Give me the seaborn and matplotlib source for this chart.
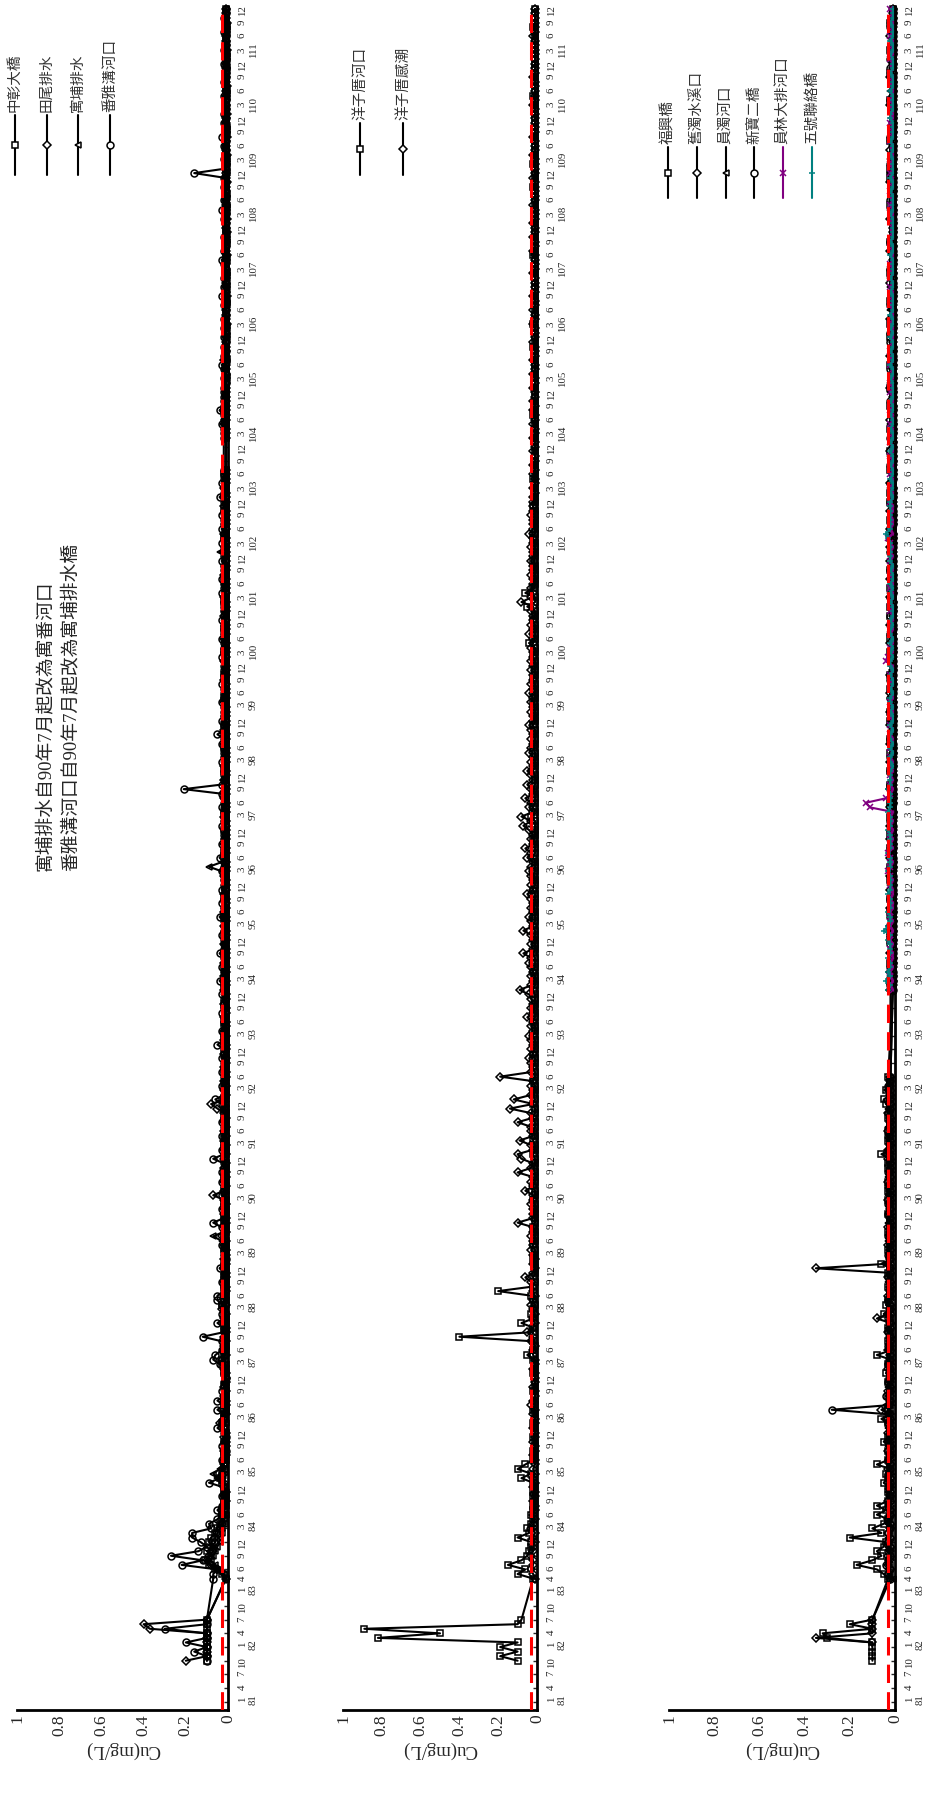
import numpy as np
import pandas as pd
import matplotlib
matplotlib.use("Agg")
import matplotlib.pyplot as plt
import seaborn as sns
from matplotlib.lines import Line2D
from matplotlib.ticker import FixedLocator, MultipleLocator

N = None

# --- TIME AXIS (ROC year, month) ---
EARLY = [(81, 10), (81, 11), (81, 12)] + [(82, m) for m in range(1, 8)]
MAIN = [(83, m) for m in range(4, 13)] + [(y, m) for y in range(84, 112) for m in range(1, 13)]
DATES = EARLY + MAIN
T = [y + (m - 1) / 12 for y, m in DATES]

TICK_MONTHS = {81: [1, 4, 7, 10], 82: [1, 4, 7, 10], 83: [1, 4, 6, 9, 12]}
LATER_MONTHS = [3, 6, 9, 12]
VALUE_TICKS = [0, 0.2, 0.4, 0.6, 0.8, 1]
VALUE_LABELS = ["0", "0.2", "0.4", "0.6", "0.8", "1"]
STANDARD = 0.03

# --- DATA: Cu in 0.01 mg/L; rows = 81/10-82/7, 83/4-12, then 84 ... 111 ---
ZHONGZHANG = [
    [10, 10, 10, 10, 10, 10, 10, 10, 10, 10],
    [1, 3, 6, 9, 11, 8, 10, 7, 9],
    [8, 6, 5, 4, 3, 2, 3, 2, 2, 1, 2, 2],
    [3, 4, 3, 2, 2, 1, 2, 2, 1, 2, 1, 1],
    [2, 3, 2, 2, 1, 2, 2, 1, 1, 2, 1, 1],
    [2, 1, 3, 3, 2, 2, 1, 2, 1, 1, 2, 1],
    [1, 2, 2, 3, 2, 1, 1, 2, 1, 2, 1, 1],
    [2, 1, 1, 2, 1, 1, 2, 1, 1, 2, 2, 1],
    [1, 2, 1, 1, 2, 1, 1, 2, 2, 1, 1, 2],
    [1, 1, 2, 1, 2, 1, 1, 1, 2, 1, 1, 2],
    [2, 1, 1, 2, 1, 1, 2, 1, 1, 1, 2, 1],
    [1, 1, 2, 1, 1, 2, 1, 1, 1, 2, 1, 1],
    [1, 2, 1, 1, 1, 2, 1, 1, 2, 1, 1, 1],
    [2, 1, 1, 1, 2, 1, 1, 1, 2, 1, 1, 1],
    [1, 1, 2, 1, 1, 1, 2, 1, 1, 1, 1, 2],
    [1, 1, 1, 2, 1, 1, 1, 2, 1, 1, 1, 1],
    [2, 1, 1, 1, 1, 2, 1, 1, 1, 1, 2, 1],
    [1, 1, 1, 1, 2, 1, 1, 1, 1, 2, 1, 1],
    [1, 1, 2, 1, 1, 1, 1, 2, 1, 1, 1, 1],
    [1, 2, 1, 1, 1, 1, 2, 1, 1, 1, 1, 1],
    [1, 1, 1, 2, 1, 1, 1, 1, 1, 2, 1, 1],
    [1, 1, 1, 1, 1, 2, 1, N, N, N, N, N],
    [N, 1, 1, 1, 1, 1, 1, 2, 1, 1, 1, 1],
    [1, 1, .5, 1, 1, 1, .5, 1, 1, 1, 1, .5],
    [1, .5, 1, 1, 1, 1, 1, .5, 1, 1, .5, 1],
    [.5, 1, 1, 1, .5, 1, 1, 1, 1, .5, 1, 1],
    [1, 1, 1, .5, 1, 1, .5, 1, 1, 1, 1, 1],
    [1, .5, 1, 1, 1, 1, 1, 1, .5, 1, 1, 1],
    [1, 1, 1, 1, .5, 1, 1, 1, 1, 1, .5, 1],
    [.5, 1, 1, 1, 1, 1, .5, 1, 1, 1, 1, 1],
]
TIANWEI = [
    [20, 10, 10, 10, 10, 10, 10, 37, 40, 10],
    [1, 2, 5, 8, 10, 9, 7, 8, 6],
    [6, 5, 4, 3, 2, 3, 2, 2, 1, 2, 1, 2],
    [2, 3, 2, 3, 2, 2, 1, 2, 1, 1, 2, 1],
    [2, 4, 2, 1, 2, 1, 1, 2, 1, 2, 1, 1],
    [1, 2, 2, 3, 1, 2, 2, 1, 2, 1, 1, 2],
    [2, 1, 3, 1, 2, 2, 1, 1, 2, 1, 1, 2],
    [1, 2, 1, 1, 2, 1, 3, 1, 2, 1, 1, 2],
    [2, 1, 2, 7, 2, 1, 2, 1, 1, 2, 1, 2],
    [1, 2, 1, 2, 1, 2, 1, 2, 1, 2, 5, 8],
    [2, 1, 2, 1, 2, 1, 1, 2, 1, 1, 2, 1],
    [1, 2, 1, 2, 1, 1, 2, 1, 1, 2, 1, 1],
    [2, 1, 1, 2, 1, 1, 2, 1, 1, 1, 2, 1],
    [1, 1, 2, 1, 1, 2, 1, 1, 1, 2, 1, 1],
    [1, 2, 1, 1, 1, 2, 1, 1, 2, 1, 1, 1],
    [1, 1, 2, 1, 1, 1, 2, 1, 1, 1, 2, 1],
    [1, 2, 1, 1, 1, 1, 2, 1, 1, 2, 1, 1],
    [1, 1, 1, 2, 1, 1, 1, 1, 2, 1, 1, 1],
    [2, 1, 1, 1, 1, 2, 1, 1, 1, 1, 2, 1],
    [1, 1, 2, 1, 1, 1, 1, 2, 1, 1, 1, 1],
    [1, 1, 1, 1, 2, 1, 1, 1, 1, 1, 2, 1],
    [1, 1, 2, 1, 1, 1, 1, N, N, N, N, N],
    [N, 1, 1, 1, 2, 1, 1, 1, 1, 1, 1, 1],
    [1, 1, 1, 1, 1, 1, 2, 1, 1, 1, 1, 1],
    [1, 1, .5, 1, 1, 1, 1, 1, .5, 1, 1, 1],
    [1, 1, 1, 1, 1, .5, 1, 1, 1, 1, .5, 1],
    [1, .5, 1, 1, 1, 1, 1, 1, 1, .5, 1, 1],
    [1, 1, 1, .5, 1, 1, 1, .5, 1, 1, 1, 1],
    [.5, 1, 1, 1, 1, 1, .5, 1, 1, 1, 1, 1],
    [1, 1, .5, 1, 1, 1, 1, 1, .5, 1, 1, 1],
]
YUPU = [
    [N] * 10,
    [1, 2, 4, 6, 8, 7, 6, 5, 4],
    [4, 3, 3, 2, 2, 1, 2, 1, 2, 1, 1, 2],
    [3, 5, 7, 4, 2, 2, 1, 2, 1, 2, 1, 1],
    [2, 1, 2, 2, 1, 1, 2, 1, 1, 1, 2, 1],
    [1, 2, 1, 2, 2, 1, 1, 2, 1, 2, 1, 1],
    [1, 1, 2, 1, 1, 2, 1, 2, 1, 1, 2, 1],
    [2, 1, 2, 1, 1, 3, 7, 2, 1, 2, 1, 1],
    [1, 2, 1, 2, 1, 1, 2, 1, 2, 1, 1, 2],
    [2, 1, 1, 2, 1, 2, 1, 1, 2, 1, 2, 1],
    [1, 2, 1, 1, 2, 1, 2, 1, 1, 2, 1, 1],
    [2, 1, 2, 1, 1, 2, 1, 1, 2, 1, 1, 2],
    [1, 1, 2, 1, 2, 1, 1, 2, 1, 1, 2, 1],
    [1, 2, 1, 1, 2, 1, 2, 1, 1, 2, 1, 1],
    [2, 1, 3, 9, 3, 1, 2, 1, 1, 2, 1, 1],
    [1, 2, 1, 1, 2, 1, 1, 2, 1, 1, 2, 1],
    [1, 1, 2, 1, 1, 2, 1, 1, 1, 2, 1, 1],
    [2, 1, 1, 1, 2, 1, 1, 1, 2, 1, 1, 1],
    [1, 1, 2, 1, 1, 1, 2, 1, 1, 1, 1, 2],
    [1, 2, 1, 1, 1, 2, 1, 1, 1, 2, 1, 1],
    [4, 2, 1, 1, 1, 1, 2, 1, 1, 1, 1, 1],
    [1, 1, 1, 2, 1, 1, 1, N, N, N, N, N],
    [N, 1, 1, 1, 1, 2, 1, 1, 1, 1, 1, 1],
    [1, 1, 1, 1, 2, 1, 1, 1, 1, 1, 1, 1],
    [1, 1, 1, 1, 1, 1, .5, 1, 1, 1, 1, 1],
    [1, .5, 1, 1, 1, 1, 1, 1, .5, 1, 1, 1],
    [1, 1, 1, 1, .5, 1, 1, 1, 1, 1, 1, .5],
    [1, 1, .5, 1, 1, 1, 1, 1, 1, .5, 1, 1],
    [1, 1, 1, 1, 1, .5, 1, 1, 1, 1, 1, 1],
    [1, .5, 1, 1, 1, 1, 1, .5, 1, 1, 1, 1],
]
FANYA = [
    [10, 10, 16, 10, 20, 10, 10, 30, 10, 10],
    [7, 7, 5, 22, 12, 27, 14, 10, 13],
    [17, 17, 8, 9, 5, 3, 5, 3, 2, 3, 2, 2],
    [9, 4, 3, 2, 2, 3, 2, 1, 3, 2, 1, 2],
    [5, 3, 2, 2, 5, 2, 5, 2, 3, 2, 2, 1],
    [2, 2, 4, 7, 6, 3, 2, 3, 12, 2, 2, 5],
    [2, 3, 2, 3, 5, 5, 2, 2, 3, 2, 2, 4],
    [2, 1, 2, 2, 3, 2, 2, 2, 3, 7, 2, 2],
    [3, 2, 2, 3, 2, 2, 3, 2, 3, 2, 2, 7],
    [2, 3, 2, 2, 3, 2, 2, 3, 2, 2, 2, 3],
    [6, 2, 2, 3, 2, 2, 3, 2, 2, 3, 2, 2],
    [5, 2, 2, 3, 2, 2, 2, 3, 2, 2, 2, 3],
    [2, 2, 4, 2, 2, 3, 2, 2, 4, 2, 2, 2],
    [3, 2, 2, 2, 4, 2, 2, 3, 2, 2, 3, 2],
    [2, 2, 3, 2, 2, 4, 2, 2, 3, 2, 2, 2],
    [3, 2, 2, 2, 3, 2, 2, 3, 21, 3, 2, 2],
    [2, 2, 3, 2, 2, 2, 3, 2, 5, 2, 2, 3],
    [2, 2, 2, 3, 2, 2, 2, 3, 2, 2, 2, 2],
    [2, 3, 2, 2, 2, 3, 2, 2, 2, 3, 2, 2],
    [2, 2, 2, 3, 2, 2, 3, 2, 2, 2, 3, 2],
    [2, 2, 3, 2, 2, 3, 2, 2, 3, 2, 2, 2],
    [4, 2, 2, 3, 2, 2, 2, N, N, N, N, N],
    [N, 2, 2, 2, 3, 2, 2, 4, 2, 2, 2, 2],
    [2, 1, 2, 1, 2, 3, 1, 2, 1, 2, 1, 2],
    [1, 2, 1, 2, 1, 1, 2, 1, 3, 1, 2, 1],
    [2, 1, 1, 2, 3, 1, 2, 1, 1, 2, 1, 1],
    [1, 2, 1, 3, 1, 2, 1, 1, 2, 1, 2, 16],
    [1, 1, 2, 1, 1, 2, 1, 3, 1, 1, 2, 1],
    [2, 1, 1, 1, 2, 1, 1, 2, 1, 1, 1, 2],
    [1, 1, 2, 1, 1, 1, 2, 1, 1, 2, 1, 1],
]
YZC_RIVER = [
    [10, 19, 10, 19, 10, 82, 50, 89, 10, 8],
    [2, 10, 6, 15, 8, 5, 4, 3, 3],
    [10, 4, 5, 3, 2, 3, 2, 2, 1, 2, 2, 1],
    [2, 8, 3, 10, 6, 2, 1, 2, 1, 1, 2, 1],
    [1, 2, 1, 1, 2, 1, 1, 1, 2, 1, 1, 1],
    [2, 1, 1, 2, 5, 2, 1, 2, 40, 2, 2, 8],
    [2, 3, 2, 1, 2, 3, 20, 2, 1, 2, 1, 1],
    [1, 2, 1, 1, 2, 1, 1, 1, 2, 1, 1, 1],
    [1, 1, 2, 1, 1, 2, 1, 1, 1, 2, 1, 1],
    [2, 1, 1, 2, 1, 2, 1, 1, 2, 1, 1, 2],
    [1, 2, 1, 1, 2, 1, 1, 2, 1, 1, 2, 1],
    [1, 1, 2, 1, 1, 2, 1, 1, 2, 1, 1, 1],
    [2, 1, 1, 1, 2, 1, 1, 1, 2, 1, 1, 1],
    [1, 1, 2, 1, 1, 1, 2, 1, 1, 1, 2, 1],
    [1, 2, 1, 1, 1, 2, 1, 1, 1, 2, 1, 1],
    [1, 1, 3, 1, 2, 1, 1, 1, 2, 1, 1, 1],
    [2, 1, 1, 1, 1, 2, 1, 1, 1, 1, 2, 1],
    [1, 1, 1, 2, 1, 1, 1, 1, 2, 1, 1, 1],
    [1, 2, 1, 1, 4, 1, 1, 1, 1, 2, 1, 1],
    [5, 1, 1, 6, 2, 1, 1, 1, 1, 1, 2, 1],
    [1, 1, 1, 2, 1, 1, 1, 1, 1, 1, 2, 1],
    [1, 1, 1, 1, 2, 1, 1, 1, 1, 1, 1, 1],
    [1, 1, 1, 1, 1, 1, 2, 1, 1, 1, 1, 1],
    [1, 1, 1, 1, 1, 1, 1, 1, 1, 2, 1, 1],
    [1, 1, 2, 1, 1, 1, 1, 1, 1, 1, 1, 1],
    [1, 1, 1, 1, 1, 2, 1, 1, 1, 1, 1, 1],
    [1, 1, 1, 1, 1, 1, 1, 1, 2, 1, 1, 1],
    [1, 2, 1, 1, 1, 1, 1, 1, 1, 1, 1, 1],
    [1, 1, 1, 1, 2, 1, 1, 1, 1, 1, 1, 1],
    [1, 1, 1, 1, 1, 1, 1, 2, 1, 1, 1, 1],
]
YZC_TIDAL = [
    [N] * 10,
    [1, 2, 3, 2, 2, 3, 2, 2, 1],
    [2, 1, 2, 2, 1, 2, 1, 1, 2, 1, 1, 2],
    [1, 2, 1, 2, 1, 1, 2, 1, 1, 2, 1, 1],
    [2, 1, 1, 2, 1, 3, 2, 1, 1, 2, 1, 1],
    [1, 2, 1, 1, 2, 2, 1, 3, 2, 5, 2, 1],
    [2, 1, 2, 3, 2, 1, 2, 2, 3, 6, 2, 1],
    [2, 1, 2, 3, 2, 2, 3, 2, 2, 10, 2, 2],
    [2, 3, 2, 2, 6, 2, 3, 2, 10, 3, 2, 8],
    [10, 2, 3, 9, 2, 3, 3, 10, 2, 3, 14, 2],
    [12, 3, 2, 3, 2, 19, 3, 2, 3, 4, 2, 3],
    [2, 3, 4, 2, 3, 2, 5, 2, 3, 2, 3, 4],
    [9, 3, 2, 3, 2, 3, 4, 3, 7, 2, 3, 2],
    [3, 7, 2, 3, 4, 2, 3, 2, 3, 5, 2, 3],
    [2, 3, 4, 3, 2, 5, 3, 6, 2, 3, 2, 4],
    [7, 3, 8, 2, 4, 3, 6, 2, 3, 5, 2, 3],
    [5, 2, 3, 2, 4, 3, 2, 3, 2, 3, 4, 2],
    [2, 3, 2, 3, 2, 4, 2, 3, 2, 2, 3, 2],
    [3, 2, 2, 3, 2, 2, 4, 2, 3, 2, 2, 3],
    [2, 8, 3, 2, 3, 2, 2, 3, 2, 2, 3, 2],
    [2, 3, 2, 2, 4, 2, 2, 2, 3, 2, 2, 2],
    [2, 1, 2, 1, 1, 2, 1, 2, 1, 1, 2, 1],
    [1, 2, 1, 1, 2, 1, 1, 2, 1, 2, 1, 1],
    [2, 1, 1, 2, 1, 1, 2, 1, 1, 1, 2, 1],
    [1, 1, 2, 1, 1, 2, 1, 1, 2, 1, 1, 1],
    [1, 2, 1, 1, 1, 1, 2, 1, 1, 2, 1, 1],
    [2, 1, 1, 1, 2, 1, 1, 1, 1, 1, 2, 1],
    [1, 1, 1, 2, 1, 1, 1, 2, 1, 1, 1, 1],
    [1, 1, 2, 1, 1, 1, 1, 1, 2, 1, 1, 1],
    [1, 1, 1, 1, 1, 2, 1, 1, 1, 1, 1, 1],
]
FUXING = [
    [10, 10, 10, 10, 10, 30, 32, 10, 20, 10],
    [3, 5, 8, 17, 10, 6, 8, 5, 4],
    [20, 6, 10, 5, 3, 8, 4, 8, 3, 2, 3, 2],
    [5, 3, 4, 2, 8, 3, 2, 3, 2, 5, 3, 2],
    [2, 3, 6, 2, 3, 2, 2, 3, 2, 2, 3, 2],
    [4, 2, 3, 2, 8, 2, 2, 3, 2, 2, 3, 2],
    [2, 5, 2, 4, 3, 2, 2, 3, 2, 2, 3, 2],
    [6, 2, 2, 3, 2, 2, 2, 3, 2, 2, 2, 3],
    [2, 2, 3, 2, 3, 2, 3, 2, 2, 3, 3, 2],
    [6, 2, 2, 3, 2, 3, 2, 2, 3, 2, 2, 4],
    [5, 2, 4, 2, 2, 3, N, N, N, N, N, N],
    [N] * 12,
    [1, 1, 2, 1, 1, 1, 2, 1, 1, 1, 1, 2],
    [1, 2, 1, 1, 1, 2, 1, 1, 2, 1, 1, 1],
    [2, 1, 1, 2, 1, 1, 1, 2, 1, 1, 2, 1],
    [1, 1, 2, 1, 1, 2, 1, 1, 1, 2, 1, 1],
    [2, 1, 1, 1, 2, 1, 1, 2, 1, 1, 1, 2],
    [1, 2, 1, 1, 1, 1, 2, 1, 1, 2, 1, 1],
    [1, 1, 2, 1, 1, 2, 1, 1, 1, 1, 2, 1],
    [2, 1, 1, 1, 2, 1, 1, 1, 2, 1, 1, 1],
    [1, 1, 1, 2, 1, 1, 1, 2, 1, 1, 1, 2],
    [1, 2, 1, 1, 1, 1, 2, 1, 1, 1, 2, 1],
    [1, 1, 1, 2, 1, 1, 1, 1, 2, 1, 1, 1],
    [2, 1, 1, 1, 1, 2, 1, 1, 1, 1, 1, 2],
    [1, 1, 2, 1, 1, 1, 1, 2, 1, 1, 1, 1],
    [1, 2, 1, 1, 1, 1, 1, 1, 2, 1, 1, 1],
    [1, 1, 1, 1, 2, 1, 1, 1, 1, 1, 2, 1],
    [2, 1, 1, 1, 1, 1, 2, 1, 1, 1, 1, 1],
    [1, 1, 1, 2, 1, 1, 1, 1, 1, 2, 1, 1],
    [1, 1, 2, 1, 1, 1, 1, 1, 2, 1, 1, 1],
]
JIUZHUO = [
    [N, N, N, N, 10, 35, 10, 10, 10, 10],
    [2, 3, 2, 3, 2, 3, 2, 2, 3],
    [2, 3, 2, 2, 3, 2, 2, 2, 3, 2, 2, 2],
    [3, 2, 2, 3, 2, 2, 2, 3, 2, 2, 2, 3],
    [2, 2, 3, 2, 6, 2, 2, 2, 3, 2, 2, 2],
    [2, 3, 2, 2, 2, 3, 2, 2, 2, 3, 2, 2],
    [8, 3, 2, 2, 2, 3, 2, 2, 2, 3, 2, 35],
    [3, 2, 2, 2, 3, 2, 2, 2, 3, 2, 2, 2],
    [2, 2, 3, 2, 2, 2, 3, 2, 2, 2, 2, 3],
    [2, 3, 2, 2, 2, 3, 2, 2, 2, 3, 2, 2],
    [2, 2, 3, 2, 2, 2, N, N, N, N, N, N],
    [N] * 12,
    [2, 1, 1, 1, 2, 1, 1, 1, 2, 1, 1, 1],
    [1, 1, 2, 1, 1, 1, 2, 1, 1, 1, 2, 1],
    [1, 2, 1, 1, 1, 2, 1, 1, 1, 2, 1, 1],
    [2, 1, 1, 1, 2, 1, 1, 1, 2, 1, 1, 1],
    [1, 1, 2, 1, 1, 1, 2, 1, 1, 1, 2, 1],
    [1, 2, 1, 1, 1, 2, 1, 1, 1, 2, 1, 1],
    [2, 1, 1, 1, 2, 1, 1, 1, 2, 1, 1, 1],
    [1, 1, 2, 1, 1, 1, 2, 1, 1, 1, 2, 1],
    [1, 2, 1, 1, 1, 2, 1, 1, 1, 2, 1, 1],
    [1, 1, 1, 2, 1, 1, 1, 1, 1, 1, 2, 1],
    [1, 1, 1, 1, 1, 2, 1, 1, 1, 1, 1, 1],
    [2, 1, 1, 1, 1, 1, 1, 2, 1, 1, 1, 1],
    [1, 1, 1, 2, 1, 1, 1, 1, 1, 1, 1, 2],
    [1, 1, 1, 1, 1, 1, 2, 1, 1, 1, 1, 1],
    [1, 2, 1, 1, 1, 1, 1, 1, 1, 2, 1, 1],
    [1, 1, 1, 1, 2, 1, 1, 1, 1, 1, 1, 1],
    [1, 1, 2, 1, 1, 1, 1, 1, 2, 1, 1, 1],
    [1, 1, 1, 1, 1, 2, 1, 1, 1, 1, 1, 1],
]
YUANZHUO = [
    [N] * 10,
    [1, 2, 3, 2, 3, 2, 2, 3, 2],
    [3, 2, 2, 3, 2, 2, 2, 3, 2, 2, 3, 2],
    [2, 3, 2, 2, 2, 3, 2, 2, 3, 2, 2, 2],
    [3, 2, 2, 3, 2, 4, 2, 2, 2, 3, 2, 2],
    [2, 2, 3, 2, 2, 3, 2, 2, 2, 2, 3, 2],
    [2, 3, 2, 2, 3, 2, 2, 2, 3, 2, 2, 2],
    [3, 2, 2, 2, 2, 3, 2, 2, 2, 3, 2, 2],
    [2, 2, 2, 3, 2, 2, 2, 3, 2, 2, 2, 2],
    [2, 3, 2, 2, 2, 2, 3, 2, 2, 2, 3, 2],
    [2, 2, 3, 2, 2, 2, N, N, N, N, N, N],
    [N] * 12,
    [1, 1, 1, 2, 1, 1, 1, 1, 2, 1, 1, 1],
    [1, 2, 1, 1, 1, 1, 2, 1, 1, 1, 1, 2],
    [1, 1, 1, 2, 1, 1, 1, 2, 1, 1, 1, 1],
    [2, 1, 1, 1, 1, 2, 1, 1, 1, 2, 1, 1],
    [1, 1, 2, 1, 1, 1, 1, 2, 1, 1, 1, 2],
    [1, 1, 1, 1, 2, 1, 1, 1, 1, 2, 1, 1],
    [1, 2, 1, 1, 1, 1, 2, 1, 1, 1, 1, 1],
    [1, 1, 1, 2, 1, 1, 1, 1, 2, 1, 1, 1],
    [2, 1, 1, 1, 1, 1, 2, 1, 1, 1, 2, 1],
    [1, 1, 2, 1, 1, 1, 1, 1, 1, 2, 1, 1],
    [1, 1, 1, 1, 2, 1, 1, 1, 1, 1, 1, 2],
    [1, 2, 1, 1, 1, 1, 1, 2, 1, 1, 1, 1],
    [1, 1, 1, 1, 1, 2, 1, 1, 1, 1, 2, 1],
    [2, 1, 1, 1, 1, 1, 1, 1, 2, 1, 1, 1],
    [1, 1, 1, 2, 1, 1, 1, 1, 1, 1, 1, 2],
    [1, 1, 2, 1, 1, 1, 2, 1, 1, 1, 1, 1],
    [1, 1, 1, 1, 1, 2, 1, 1, 1, 2, 1, 1],
    [1, 2, 1, 1, 1, 1, 1, 1, 2, 1, 1, 1],
]
XINBAO = [
    [N] * 10,
    [2, 3, 2, 4, 3, 2, 3, 2, 3],
    [2, 3, 2, 2, 3, 2, 2, 3, 2, 2, 2, 3],
    [2, 2, 3, 2, 2, 3, 2, 2, 2, 3, 2, 2],
    [2, 3, 2, 3, 28, 3, 2, 4, 2, 2, 3, 2],
    [2, 2, 3, 2, 2, 2, 3, 2, 2, 3, 2, 2],
    [3, 2, 2, 2, 3, 2, 2, 2, 2, 3, 2, 2],
    [2, 2, 3, 2, 2, 2, 3, 2, 2, 2, 2, 3],
    [2, 3, 2, 2, 2, 3, 2, 2, 3, 2, 2, 2],
    [3, 2, 2, 2, 3, 2, 2, 2, 2, 3, 2, 2],
    [2, 2, 2, 3, 2, 2, N, N, N, N, N, N],
    [N] * 12,
    [1, 2, 1, 1, 1, 2, 1, 1, 1, 1, 2, 1],
    [2, 1, 1, 1, 2, 1, 1, 1, 2, 1, 1, 1],
    [1, 1, 2, 1, 1, 1, 2, 1, 1, 1, 1, 2],
    [1, 2, 1, 1, 2, 1, 1, 1, 1, 2, 1, 1],
    [2, 1, 1, 2, 1, 1, 1, 2, 1, 1, 1, 1],
    [1, 1, 1, 1, 2, 1, 1, 1, 2, 1, 1, 1],
    [1, 2, 1, 1, 1, 1, 2, 1, 1, 1, 2, 1],
    [1, 1, 2, 1, 1, 1, 1, 1, 2, 1, 1, 1],
    [2, 1, 1, 1, 1, 2, 1, 1, 1, 1, 1, 2],
    [1, 1, 1, 2, 1, 1, 1, 2, 1, 1, 1, 1],
    [1, 2, 1, 1, 1, 1, 1, 1, 1, 2, 1, 1],
    [1, 1, 1, 1, 2, 1, 1, 1, 1, 1, 2, 1],
    [2, 1, 1, 1, 1, 1, 2, 1, 1, 1, 1, 1],
    [1, 1, 2, 1, 1, 1, 1, 1, 2, 1, 1, 1],
    [1, 1, 1, 1, 1, 2, 1, 1, 1, 1, 1, 2],
    [1, 2, 1, 1, 1, 1, 1, 2, 1, 1, 1, 1],
    [1, 1, 1, 2, 1, 1, 1, 1, 1, 1, 2, 1],
    [2, 1, 1, 1, 1, 1, 1, 2, 1, 1, 1, 1],
]
YUANLIN = [
    [N] * 10,
    [N] * 9,
] + [[N] * 12] * 10 + [
    [1, 2, 1, 2, 2, 1, 2, 1, 1, 2, 1, 2],
    [2, 1, 2, 1, 2, 2, 1, 1, 2, 1, 1, 2],
    [1, 2, 3, 2, 1, 2, 3, 1, 2, 1, 2, 1],
    [2, 1, 2, 1, 11, 13, 4, 2, 1, 2, 1, 2],
    [1, 2, 1, 2, 1, 2, 1, 1, 2, 1, 2, 1],
    [2, 1, 1, 2, 1, 1, 2, 1, 1, 2, 1, 1],
    [4, 3, 1, 2, 1, 1, 2, 1, 2, 1, 1, 2],
    [1, 2, 1, 1, 2, 1, 1, 2, 1, 1, 2, 1],
    [2, 1, 2, 3, 1, 2, 1, 1, 2, 1, 1, 2],
    [1, 1, 2, 1, 1, 2, 1, 1, 1, 2, 1, 1],
    [2, 1, 1, 1, 2, 1, 1, 2, 1, 1, 1, 2],
    [1, 2, 1, 1, 1, 2, 1, 1, 2, 1, 1, 1],
    [1, 1, 2, 1, 1, 1, 2, 1, 1, 1, 2, 1],
    [2, 1, 1, 2, 1, 1, 1, 1, 2, 1, 1, 1],
    [1, 1, 1, 1, 2, 1, 1, 2, 1, 1, 1, 2],
    [1, 2, 1, 1, 1, 1, 2, 1, 1, 1, 2, 1],
    [1, 1, 1, 2, 1, 1, 1, 1, 1, 2, 1, 1],
    [2, 1, 1, 1, 1, 2, 1, 1, 1, 1, 1, 2],
]
WUHAO = [
    [N] * 10,
    [N] * 9,
] + [[N] * 12] * 10 + [
    [3, 2, 4, 2, 3, 2, 2, 3, 2, 2, 2, 3],
    [2, 5, 3, 2, 2, 3, 2, 2, 2, 3, 2, 2],
    [2, 2, 3, 2, 2, 2, 3, 2, 2, 2, 2, 3],
    [2, 2, 2, 3, 2, 2, 2, 2, 3, 2, 2, 2],
    [2, 1, 2, 2, 1, 2, 1, 2, 2, 1, 2, 1],
    [1, 2, 1, 2, 2, 1, 2, 1, 1, 2, 1, 2],
    [2, 1, 2, 1, 2, 1, 2, 2, 1, 2, 1, 1],
    [1, 2, 1, 2, 1, 2, 1, 1, 2, 1, 2, 2],
    [2, 2, 2, 3, 4, 2, 2, 2, 2, 2, 2, 2],
    [1, 2, 1, 1, 2, 1, 1, 2, 1, 1, 2, 1],
    [2, 1, 1, 2, 1, 1, 2, 1, 1, 2, 1, 1],
    [1, 1, 2, 1, 1, 2, 1, 1, 2, 1, 1, 2],
    [1, 2, 1, 1, 2, 1, 1, 1, 1, 2, 1, 1],
    [2, 1, 1, 1, 1, 2, 1, 1, 2, 1, 1, 1],
    [1, 1, 2, 1, 1, 1, 1, 2, 1, 1, 2, 1],
    [1, 1, 1, 2, 1, 1, 2, 1, 1, 1, 1, 2],
    [2, 1, 1, 1, 1, 2, 1, 1, 1, 2, 1, 1],
    [1, 2, 1, 1, 2, 1, 1, 1, 2, 1, 1, 1],
]

# panels: (station, values, color, marker)
PANEL1 = [("中彰大橋", ZHONGZHANG, "black", "s"), ("田尾排水", TIANWEI, "black", "D"),
          ("寓埔排水", YUPU, "black", "<"), ("番雅溝河口", FANYA, "black", "o")]
PANEL2 = [("洋子厝河口", YZC_RIVER, "black", "s"), ("洋子厝感潮", YZC_TIDAL, "black", "D")]
PANEL3 = [("福興橋", FUXING, "black", "s"), ("舊濁水溪口", JIUZHUO, "black", "D"),
          ("員濁河口", YUANZHUO, "black", "<"), ("新寶二橋", XINBAO, "black", "o"),
          ("員林大排河口", YUANLIN, "#800080", "x"), ("五號聯絡橋", WUHAO, "#008080", "+")]

NOTE_1 = "寓埔排水自90年7月起改為寓番河口"
NOTE_2 = "番雅溝河口自90年7月起改為寓埔排水橋"

# --- LAYOUT (pixels of the 934x1796 page) ---
FIG_W, FIG_H = 934, 1796
PANEL_X = [(17, 228), (343, 537), (669, 895)]
TOP, BOTTOM = 7, 1710
LEGEND_X = [[15, 47, 78, 110], [360, 403], [668, 697, 726, 754, 783, 812]]
LEGEND_Y = [(115, 175), (123, 175), (147, 198)]

sns.set_style("white")
plt.rcParams["font.family"] = ["Liberation Serif", "Noto Sans CJK TC", "DejaVu Sans"]


def fx(x):
    return x / FIG_W


def fy(y):
    return 1 - y / FIG_H


tick_pos, tick_lab = [], []
for yr in range(81, 112):
    for i, m in enumerate(TICK_MONTHS.get(yr, LATER_MONTHS)):
        tick_pos.append(yr + (m - 1) / 12)
        tick_lab.append(f"{m}\n{yr}" if i == 0 else f"{m}")

fig = plt.figure(figsize=(FIG_W / 100, FIG_H / 100), dpi=100)

for p, stations in enumerate([PANEL1, PANEL2, PANEL3]):
    x0, x1 = PANEL_X[p]
    ax = fig.add_axes([fx(x0), fy(BOTTOM), (x1 - x0) / FIG_W, (BOTTOM - TOP) / FIG_H])

    for name, rows, color, marker in stations:
        vals = np.array([v for row in rows for v in row], dtype=float) / 100
        assert len(vals) == len(T), name
        df = pd.DataFrame({"t": T, "cu": vals}).dropna()
        filled = marker not in ("x", "+")
        sns.lineplot(data=df, x="cu", y="t", orient="y", sort=True, estimator=None,
                     ax=ax, color=color, lw=1.5, marker=marker,
                     markersize=5 if marker != "D" else 4.2,
                     markerfacecolor="none" if filled else color,
                     markeredgecolor=color, markeredgewidth=1.1,
                     clip_on=False, legend=False)

    ax.axvline(STANDARD, color="#ff0000", lw=2.2, linestyle=(0, (6, 3)), zorder=5)

    ax.set_xlim(1, 0)
    ax.set_ylim(80.85, 111.95)
    ax.xaxis.set_major_locator(FixedLocator(VALUE_TICKS))
    ax.set_xticklabels(VALUE_LABELS)
    ax.xaxis.set_minor_locator(MultipleLocator(0.04))
    ax.yaxis.tick_right()
    ax.set_yticks(tick_pos)
    ax.set_yticklabels(tick_lab)
    for lab in ax.get_yticklabels():
        lab.set_multialignment("center")
        lab.set_linespacing(1.3)
    ax.tick_params(axis="x", which="both", direction="in", length=5, width=1.3,
                   labelsize=12.5, labelrotation=90, pad=3)
    ax.tick_params(axis="y", direction="in", length=3, width=1, labelsize=7.8,
                   labelrotation=90, pad=7)
    ax.set_xlabel("Cu(mg/L)", rotation=180, fontsize=13.5, labelpad=4)
    ax.set_ylabel("")
    for side in ["top", "left"]:
        ax.spines[side].set_visible(False)
    for side in ["right", "bottom"]:
        ax.spines[side].set_linewidth(2)
        ax.spines[side].set_color("black")
    ax.patch.set_alpha(0)

    # legend drawn by hand so it reads along the rotated page
    ytop, ybot = LEGEND_Y[p]
    for (name, rows, color, marker), lx in zip(stations, LEGEND_X[p]):
        filled = marker not in ("x", "+")
        fig.add_artist(Line2D([fx(lx), fx(lx)], [fy(ytop), fy(ybot)], color=color, lw=1.5,
                              transform=fig.transFigure))
        fig.add_artist(Line2D([fx(lx)], [fy((ytop + ybot) / 2)], color=color, marker=marker,
                              markersize=5 if marker != "D" else 4.2,
                              markerfacecolor="white" if filled else color,
                              markeredgecolor=color, markeredgewidth=1.1,
                              transform=fig.transFigure))
        fig.text(fx(lx), fy(ytop - 3), name, rotation=90, ha="center", va="bottom",
                 fontsize=10.5, color="#333333")

fig.text(fx(45), fy(871), NOTE_1, rotation=90, ha="center", va="bottom", fontsize=13.5)
fig.text(fx(71), fy(871), NOTE_2, rotation=90, ha="center", va="bottom", fontsize=13.5)

fig.savefig("out.png", dpi=100, facecolor="white")
